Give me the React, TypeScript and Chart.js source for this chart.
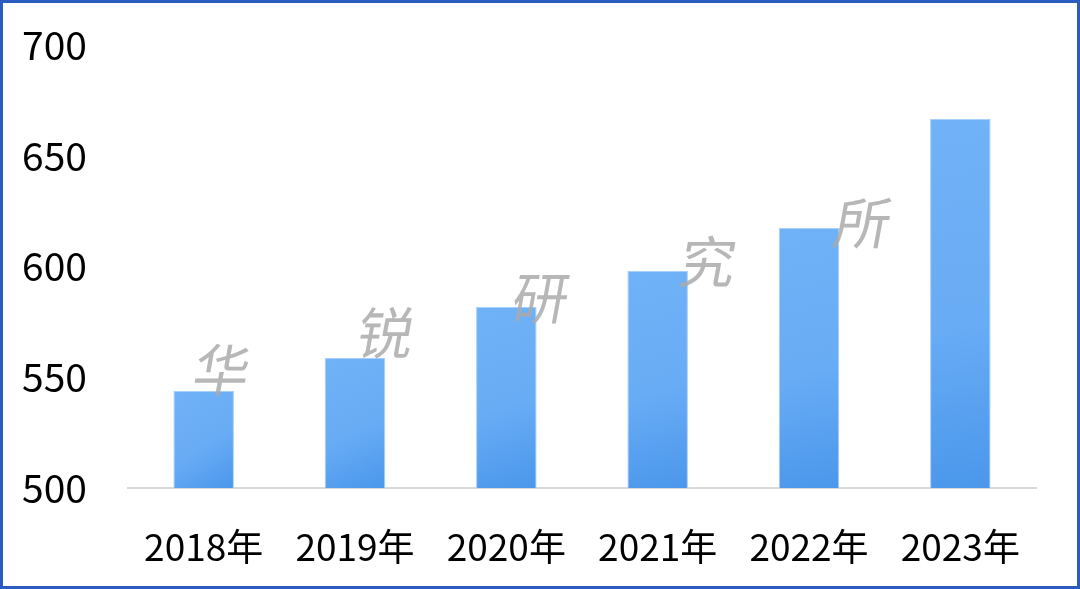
import React, { useEffect, useRef } from "react";
import { Chart, registerables } from "chart.js";

Chart.register(...registerables);

const categories = ["2018年", "2019年", "2020年", "2021年", "2022年", "2023年"];
const values = [543.8, 558.7, 581.7, 598.0, 617.4, 666.6];
const yTicks = [500, 550, 600, 650, 700];
const watermarkChars = ["华", "锐", "研", "究", "所"];
const watermarkSpots = [
  [222, 370],
  [386, 333],
  [541, 298],
  [708, 262],
  [863, 223],
];

const FONT = "'Noto Sans CJK SC', 'Noto Sans', sans-serif";

export default function App() {
  const ref = useRef<HTMLCanvasElement | null>(null);

  useEffect(() => {
    if (!ref.current) return;
    const overlay = {
      id: "overlay",
      afterDatasetsDraw(chart: any) {
        const ctx = chart.ctx;
        ctx.save();
        ctx.fillStyle = "rgba(170,170,170,0.85)";
        ctx.font = `400 56px ${FONT}`;
        ctx.textAlign = "center";
        ctx.textBaseline = "middle";
        watermarkChars.forEach((c, i) => {
          const [x, y] = watermarkSpots[i];
          ctx.save();
          ctx.translate(x, y);
          ctx.transform(1, 0, -0.18, 1, 0, 0);
          ctx.fillText(c, 0, 0);
          ctx.restore();
        });
        ctx.restore();
      },
      afterDraw(chart: any) {
        const ctx = chart.ctx;
        ctx.save();
        ctx.strokeStyle = "#2a5cbf";
        ctx.lineWidth = 3;
        ctx.strokeRect(1.5, 1.5, chart.width - 3, chart.height - 3);
        ctx.restore();
      },
    };

    const chart = new Chart(ref.current, {
      type: "bar",
      data: {
        labels: categories,
        datasets: [
          {
            data: values,
            backgroundColor: (c: any) => {
              const ch = c.chart;
              const sx = ch.scales?.x;
              const sy = ch.scales?.y;
              if (!sx || !sy || c.dataIndex === undefined) return "#5fa5f2";
              const cx = sx.getPixelForValue(c.dataIndex);
              const top = sy.getPixelForValue(values[c.dataIndex]);
              const bot = sy.getPixelForValue(500);
              if (!isFinite(cx) || !isFinite(top) || !isFinite(bot)) return "#5fa5f2";
              const g = ch.ctx.createLinearGradient(cx - 30, top, cx + 30, bot);
              g.addColorStop(0, "#70b2f7");
              g.addColorStop(0.55, "#68acf5");
              g.addColorStop(1, "#4b97eb");
              return g;
            },
            borderColor: "#a6cff9",
            borderWidth: 1,
            barPercentage: 0.4,
            categoryPercentage: 1,
          },
        ],
      },
      options: {
        responsive: false,
        animation: false,
        layout: { padding: { top: 45, right: 44, left: 0, bottom: 0 } },
        plugins: {
          legend: { display: false },
          tooltip: { enabled: false },
        },
        scales: {
          x: {
            grid: { display: false, drawTicks: false },
            border: { display: true, color: "#d9d9d9", width: 2 },
            ticks: {
              color: "#000",
              font: { size: 37, family: FONT },
              padding: 37,
              maxRotation: 0,
            },
            afterFit: (s: any) => {
              s.height = 101;
              s.paddingLeft = 0;
              s.paddingRight = 0;
            },
          },
          y: {
            min: 500,
            max: 700,
            grid: { display: false, drawTicks: false },
            border: { display: false },
            afterBuildTicks: (s: any) => {
              s.ticks = yTicks.map((v) => ({ value: v }));
            },
            ticks: {
              color: "#000",
              font: { size: 39, family: FONT },
              padding: 41,
            },
            afterFit: (s: any) => {
              s.width = 128;
              s.paddingTop = 0;
              s.paddingBottom = 0;
            },
          },
        },
      },
      plugins: [overlay],
    });
    return () => chart.destroy();
  }, []);

  return (
    <div style={{ position: "absolute", left: 0, top: 0, width: 1080, height: 589, background: "#fff" }}>
      <canvas ref={ref} width={1080} height={589} style={{ display: "block" }} />
    </div>
  );
}
